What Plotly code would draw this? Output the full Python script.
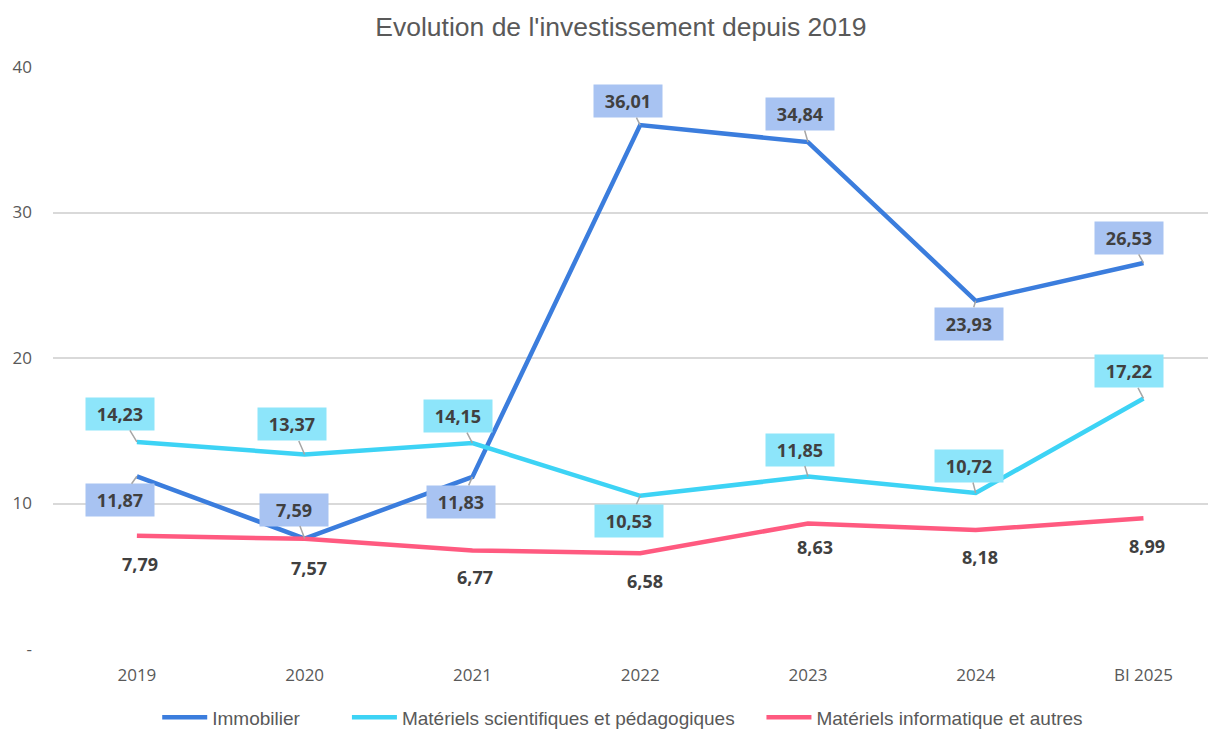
import plotly.graph_objects as go

categories = ["2019", "2020", "2021", "2022", "2023", "2024", "BI 2025"]
immobilier = [11.87, 7.59, 11.83, 36.01, 34.84, 23.93, 26.53]
materiels_sci = [14.23, 13.37, 14.15, 10.53, 11.85, 10.72, 17.22]
materiels_info = [7.79, 7.57, 6.77, 6.58, 8.63, 8.18, 8.99]

y_ticks = [0, 10, 20, 30, 40]
y_tick_text = ["-", "10", "20", "30", "40"]

# label offsets (pixels) relative to each point
immo_off = [(-17, 24), (-11, -29), (-11, 25), (-12, -24), (-8, -28), (-7, 23), (-14, -25)]
sci_off = [(-17, -28), (-13, -30), (-14, -27), (-11, 25), (-8, -27), (-7, -27), (-14, -27)]
info_off = [(3, -28), (4, -29), (3, -26), (5, -28), (7, -24), (4, -27), (4, -28)]

BLUE = "#3B7DDD"
CYAN = "#3DD3F5"
PINK = "#FF5A80"


def fr(v):
    return f"{v:.2f}".replace(".", ",")


fig = go.Figure()
fig.add_trace(go.Scatter(x=categories, y=immobilier, mode="lines", name="Immobilier",
                         line={"color": BLUE, "width": 4.5}, legend="legend"))
fig.add_trace(go.Scatter(x=categories, y=materiels_sci, mode="lines",
                         name="Matériels scientifiques et pédagogiques",
                         line={"color": CYAN, "width": 4.5}, legend="legend2"))
fig.add_trace(go.Scatter(x=categories, y=materiels_info, mode="lines",
                         name="Matériels informatique et autres",
                         line={"color": PINK, "width": 4.5}, legend="legend3"))

label_font = dict(family="Open Sans, DejaVu Sans", size=18, color="#404040", weight="bold")

# annotations on a category axis are placed by category index
for vals, offs, bg in [(immobilier, immo_off, "#A8C3F2"), (materiels_sci, sci_off, "#8DE5FA")]:
    for i, (v, (dx, dy)) in enumerate(zip(vals, offs)):
        fig.add_annotation(x=i, y=v, text=fr(v), font=label_font, bgcolor=bg,
                           borderpad=4, width=60, showarrow=True, arrowhead=0, arrowwidth=1.5,
                           arrowcolor="#A6A6A6", ax=dx, ay=dy)

for i, (v, (dx, dy)) in enumerate(zip(materiels_info, info_off)):
    fig.add_annotation(x=i, y=v, text=fr(v), font=label_font, showarrow=False,
                       xshift=dx, yshift=dy)

legend_style = dict(orientation="h", y=-0.085, yanchor="top", xanchor="left",
                    font=dict(family="Liberation Sans Narrow, Liberation Sans", size=19,
                              color="#595959"),
                    itemwidth=45)

fig.update_layout(
    width=1216, height=729,
    margin=dict(l=45, r=0, t=59, b=86),
    paper_bgcolor="white", plot_bgcolor="white",
    showlegend=True,
    title=dict(text="Evolution de l'investissement depuis 2019", x=0.504, xanchor="center",
               y=0.974, yanchor="middle",
               font=dict(family="Liberation Sans, Arial", size=26.5, color="#595959")),
    legend=dict(legend_style, x=0.089),
    legend2=dict(legend_style, x=0.251),
    legend3=dict(legend_style, x=0.605),
    xaxis=dict(type="category", range=[-0.5, 6.48], showgrid=False, zeroline=False,
               showline=False, ticklabelstandoff=14, automargin=False,
               tickfont=dict(family="Open Sans, Noto Sans", size=17, color="#595959")),
    yaxis=dict(range=[0, 40], tickvals=y_ticks, ticktext=y_tick_text,
               showgrid=True, gridcolor="#D9D9D9", gridwidth=1.5, zeroline=False,
               ticklabelstandoff=20, automargin=False,
               tickfont=dict(family="Open Sans, Noto Sans", size=17, color="#595959")),
)

fig.write_html("out.html")
